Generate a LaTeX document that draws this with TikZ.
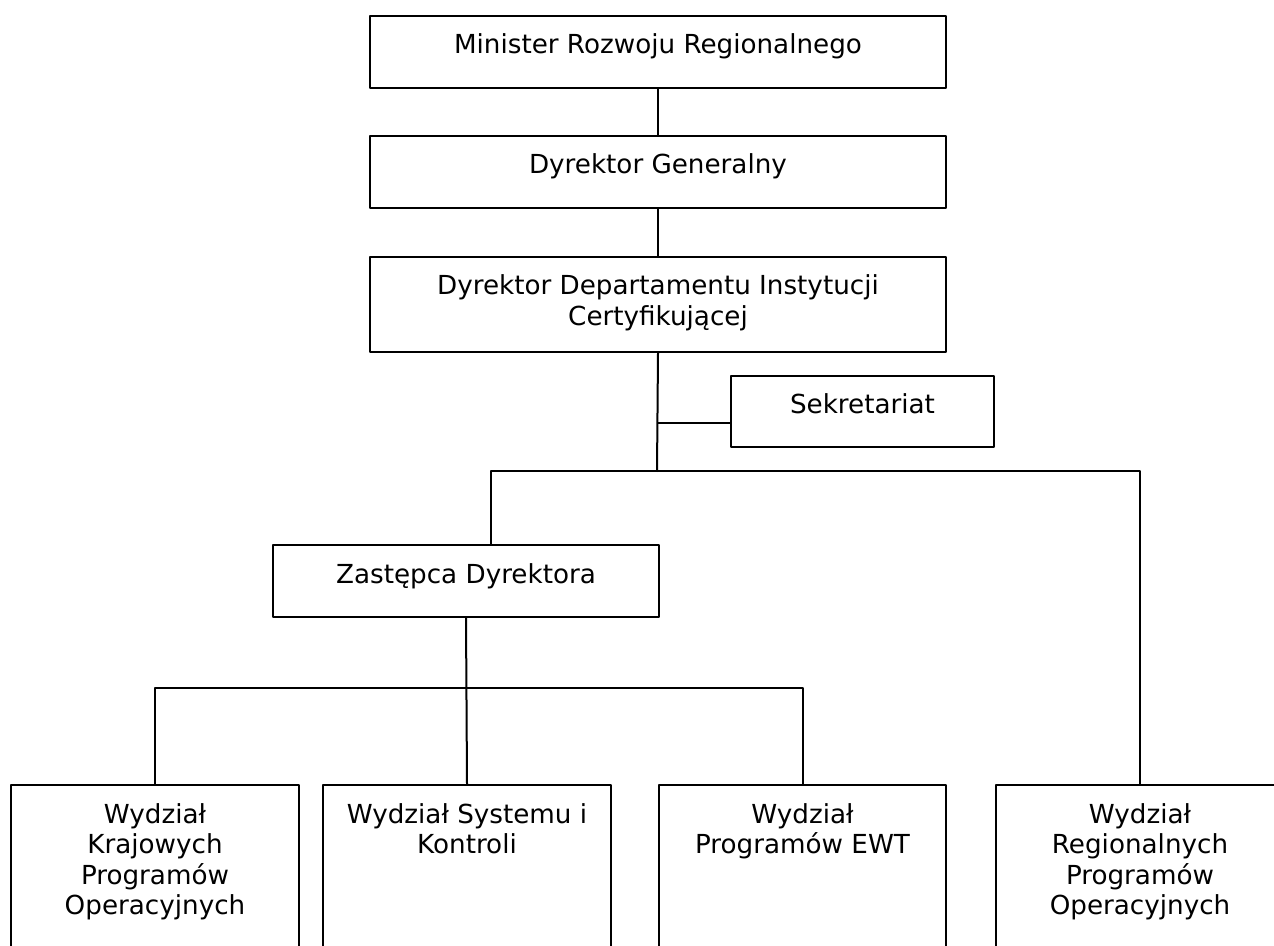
\documentclass[tikz,border=0pt]{standalone}
\usepackage{fontspec}
\setmainfont{DejaVu Sans}
\newcommand{\boxtext}[3]{\parbox[t][#2][t]{#1}{\centering\rule{0pt}{19pt}#3}}
\begin{document}
\begin{tikzpicture}[x=0.5pt,y=-0.5pt,line cap=round,line join=round,
  font=\fontsize{13.1}{15.3}\selectfont,
  orgbox/.style={draw,line width=1pt,inner sep=0pt,anchor=north west},
  link/.style={line width=1pt}]
\useasboundingbox (0,0) rectangle (1274,946);
\clip (0,0) rectangle (1274,946);
\node[orgbox] (minister) at (369,15) {\boxtext{288pt}{36pt}{Minister Rozwoju Regionalnego}};
\node[orgbox] (general) at (369,135) {\boxtext{288pt}{36pt}{Dyrektor Generalny}};
\node[orgbox] (dept) at (369,256) {\boxtext{288pt}{47.5pt}{Dyrektor Departamentu Instytucji\\Certyfikującej}};
\node[orgbox] (sekr) at (730,375) {\boxtext{131.5pt}{35.5pt}{Sekretariat}};
\node[orgbox] (zast) at (272,544) {\boxtext{193pt}{36pt}{Zastępca Dyrektora}};
\node[orgbox] (krajowe) at (10,784) {\boxtext{144pt}{85pt}{Wydział\\Krajowych\\Programów\\Operacyjnych}};
\node[orgbox] (system) at (322,784) {\boxtext{144pt}{85pt}{Wydział Systemu i\\Kontroli}};
\node[orgbox] (ewt) at (658,784) {\boxtext{143.5pt}{85pt}{Wydział\\Programów EWT}};
\node[orgbox] (regionalne) at (995,784) {\boxtext{144pt}{85pt}{Wydział\\Regionalnych\\Programów\\Operacyjnych}};
\coordinate (split) at (657,471);
\coordinate (sk) at (730,423);
\coordinate (split2) at (465,688);
\draw [link](minister.south)-- (general.north);
\draw [link](general.south)-- (dept.north);
\draw [link](dept.south)-- (split);
\draw [link](sk)-- (sk -| dept.south);
\draw [link]([xshift=12.5pt]zast.north) |- (split) -| (regionalne.north);
\draw [link](zast.south)-- (system.north);
\draw [link](krajowe.north) |- (split2) -| (ewt.north);
\end{tikzpicture}
\end{document}
